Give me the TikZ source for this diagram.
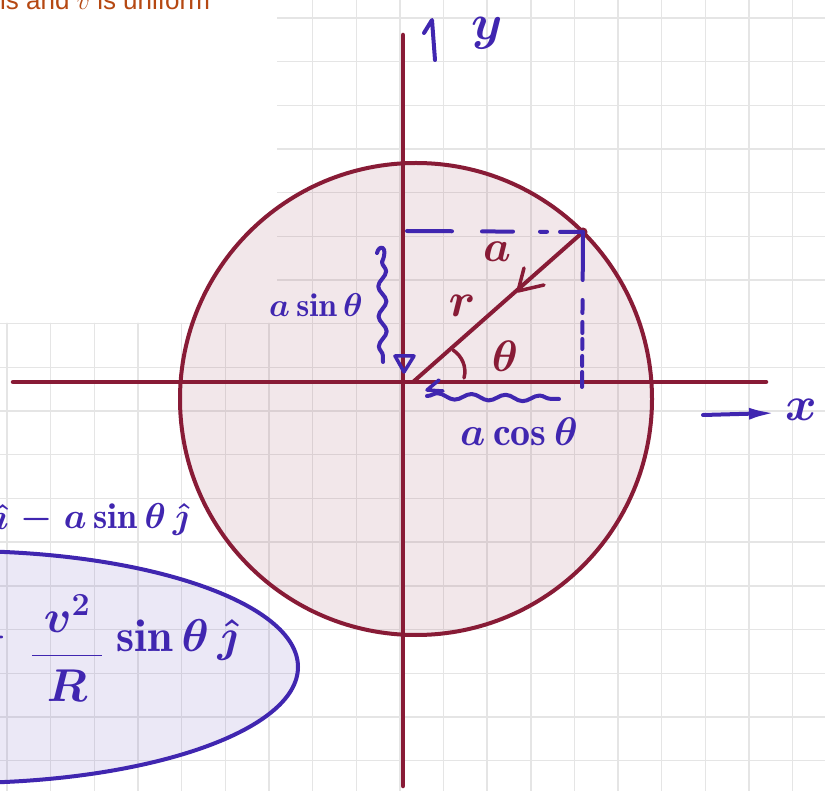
\RequirePackage{fix-cm}
\documentclass[tikz,border=0pt]{standalone}
\usepackage{fontspec}
\newfontfamily\sansarial{Liberation Sans}
\usetikzlibrary{decorations.pathmorphing,arrows.meta}
\definecolor{axred}{RGB}{136,27,54}
\definecolor{ink}{RGB}{64,38,176}
\definecolor{gridc}{RGB}{229,229,229}
\definecolor{toptext}{RGB}{181,72,18}
\newcommand{\fsz}[1]{\fontsize{#1}{#1}\selectfont\boldmath}
\begin{document}
\begin{tikzpicture}[x=1pt,y=-1pt,
  gridline/.style={draw=gridc, line width=1.4pt},
  axis/.style={draw=axred, line width=4.5pt, line cap=round, line join=round},
  inkline/.style={draw=ink, line width=4pt, line cap=round, line join=round},
  wavy/.style={inkline, decorate, decoration={snake, amplitude=4pt, segment length=30pt}},
  inklabel/.style={text=ink, inner sep=0pt},
  redlabel/.style={text=axred, inner sep=0pt}]
\useasboundingbox (0,0) rectangle (825,791);
\fill[white] (0,0) rectangle (825,791);
% grid paper
\begin{scope}
  \clip (277,0) rectangle (825,324) (0,323) rectangle (825,791);
  \foreach \i in {0,...,18} \draw[gridline] ({7+43.65*\i},0) -- ({7+43.65*\i},791);
  \foreach \j in {0,...,17} \draw[gridline] (0,{18+43.68*\j}) -- (825,{18+43.68*\j});
\end{scope}
% circle and ellipse
\draw[axred, line width=4pt, fill=axred, fill opacity=0.1] (416,399) circle[radius=236];
\draw[ink, line width=4pt, fill=ink, fill opacity=0.1] (-40,667) ellipse[x radius=338, y radius=116];
% axes
\coordinate (xL) at (13,382); \coordinate (xR) at (766,382);
\coordinate (yT) at (403,35);  \coordinate (yB) at (403,786);
\draw[axis] (xL) -- (xR);
\draw[axis] (yT) -- (yB);
% radius
\coordinate (O) at (413,382); \coordinate (P) at (583,232);
\draw[axis, line width=4pt] (P) -- (O);
\fill[axred] (P) circle[radius=4.5];
\draw[axis, line width=3.5pt] (524,268) -- (518,291) -- (544,285);
\draw[axis, line width=3.5pt] (453,350) .. controls (462,356) and (467,367) .. (464,378);
% dashed projections
\coordinate (dH) at (407,231); \coordinate (dV) at (582,387);
\draw[inkline, dash pattern=on 45pt off 30pt on 31pt off 27pt on 7pt off 13pt on 30pt] (dH) -- (P);
\draw[inkline, dash pattern=on 48pt off 20pt on 13pt off 9pt on 11pt off 6pt on 10pt off 7pt on 10pt off 6pt on 20pt] (P) -- (dV);
% a sin theta brace
\draw[inkline] (377,253) .. controls (379,244) and (389,246) .. (382,262);
\draw[wavy] (382,262) -- (383,362);
\draw[inkline, line width=3.5pt] (395,356) -- (414,356) -- (404,372) -- cycle;
% a cos theta brace
\draw[inkline, line width=3.5pt] (439,380) -- (427,390) -- (443,391);
\draw[wavy, decoration={snake, amplitude=3pt, segment length=34pt}] (427,396) -- (559,399);
% labels
\node[inklabel, font=\fsz{33}] (asin) at (316,305) {$a\sin\theta$};
\node[inklabel, font=\fsz{40}] (acos) at (519,432) {$a\cos\theta$};
\node[redlabel, font=\fsz{44}] (alab) at (497,252) {$a$};
\node[redlabel, font=\fsz{48}] (rlab) at (462,306) {$r$};
\node[redlabel, font=\fsz{44}] (thlab) at (505,356) {$\theta$};
% x and y arrows
\node[inklabel, font=\fsz{48}] (xlab) at (801,410) {$x$};
\coordinate (xa1) at (703,415); \coordinate (xa2) at (775,413);
\draw[inkline, -{Latex[length=26pt,width=12pt]}] (xa1) -- (xa2);
\node[inklabel, font=\fsz{50}] (ylab) at (487,33) {$y$};
\coordinate (ya1) at (435,60); \coordinate (ya2) at (432,20); \coordinate (ya3) at (424,33);
\draw[inkline] (ya1) -- (ya2) -- (ya3);
% bottom-left expressions
\node[inklabel, font=\fsz{36}, anchor=east] (ihat) at (9,517) {$\hat{\imath}$};
\node[inklabel, font=\fsz{36}, anchor=west] (ieq) at (20,520) {$-\;a\sin\theta\,\hat{\jmath}$};
\node[inklabel, font=\fsz{44}, anchor=east] (mn) at (8,637) {$-$};
\node[inklabel, font=\fsz{46}] (frac) at (67,648) {$\displaystyle\frac{\,v^2\,}{\;R\;}$};
\node[inklabel, font=\fsz{46}, anchor=west] (sinj) at (116,640) {$\sin\theta\,\hat{\jmath}$};
% top text
\node[anchor=base west, inner sep=0pt, text=toptext, font=\sansarial\fontsize{26}{26}\selectfont] (top) at (0,10) {is and $v$ is uniform};
\end{tikzpicture}
\end{document}
